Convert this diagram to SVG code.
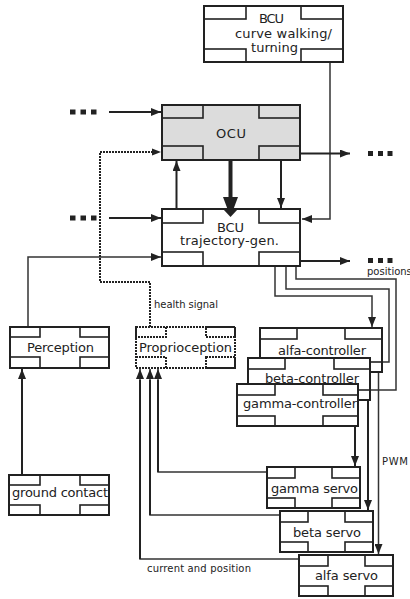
<svg xmlns="http://www.w3.org/2000/svg" width="410" height="599" viewBox="0 0 410 599">
<style>
.box{fill:#fff;stroke:#222;stroke-width:2}
.gray{fill:#dcdcdc}
.tab{fill:none;stroke:#222;stroke-width:1.6}
.dot{fill:none;stroke:#222;stroke-width:2;stroke-dasharray:2 1}
.lbl{font-family:"DejaVu Sans",Verdana,sans-serif;font-size:13px;fill:#222}
.sm{font-family:"DejaVu Sans",Verdana,sans-serif;font-size:10px;fill:#222}
.ln{fill:none;stroke:#222;stroke-width:2}
.th{fill:none;stroke:#333;stroke-width:1.5}
.sq{fill:#222}
</style>
<defs>
<marker id="ah" viewBox="0 0 10 8" refX="10" refY="4" markerWidth="10" markerHeight="8" markerUnits="userSpaceOnUse" orient="auto"><path d="M0,0 L10,4 L0,8 z" fill="#222"/></marker>
</defs>

<g id="connectors">
  <!-- BCU curve to BCU traj -->
  <polyline class="th" points="330,62 330,219 302,219" marker-end="url(#ah)"/>
  <!-- dots -> OCU -->
  <line class="ln" x1="109" y1="112" x2="161" y2="112" marker-end="url(#ah)"/>
  <!-- dots -> BCU traj -->
  <line class="ln" x1="109" y1="218" x2="161" y2="218" marker-end="url(#ah)"/>
  <!-- OCU -> dots -->
  <line class="ln" x1="300" y1="153.5" x2="350" y2="153.5" marker-end="url(#ah)"/>
  <!-- BCU traj -> dots -->
  <line class="ln" x1="300" y1="261" x2="350" y2="261" marker-end="url(#ah)"/>
  <!-- BCU traj -> OCU up -->
  <line class="ln" x1="176.5" y1="209" x2="176.5" y2="161" marker-end="url(#ah)"/>
  <!-- OCU -> BCU traj thick -->
  <line x1="230.5" y1="160" x2="230.5" y2="199" stroke="#222" stroke-width="4"/>
  <polygon points="223,197 238,197 230.5,217" fill="#222"/>
  <!-- OCU -> BCU traj thin -->
  <line class="ln" x1="281" y1="160" x2="281" y2="208" marker-end="url(#ah)"/>
  <!-- Perception -> BCU traj -->
  <polyline class="th" points="28,327 28,257 161,257" marker-end="url(#ah)"/>
  <!-- ground contact -> Perception -->
  <line class="ln" x1="22" y1="475" x2="22" y2="369" marker-end="url(#ah)"/>
  <!-- health signal dotted -->
  <polyline class="dot" points="150,327 150,282 100,282 100,152 154,152"/>
  <path d="M152,148.5 L161,152 L152,155.5 z" fill="#222"/>
  <!-- BCU traj -> controllers -->
  <polyline class="th" points="275,266 275,296 372,296 372,327" marker-end="url(#ah)"/>
  <polyline class="th" points="286,266 286,289 389,289 389,362 372,362" marker-end="url(#ah)"/>
  <polyline class="th" points="296,266 296,279 396,279 396,390 360,390" marker-end="url(#ah)"/>
  <!-- controllers -> servos (PWM) -->
  <line class="ln" x1="355" y1="426" x2="355" y2="466" marker-end="url(#ah)"/>
  <line class="ln" x1="368" y1="400" x2="368" y2="510" marker-end="url(#ah)"/>
  <line class="th" x1="378.5" y1="372" x2="378.5" y2="554" marker-end="url(#ah)"/>
  <!-- servos -> Proprioception -->
  <polyline class="th" points="267,472 158,472 158,369" marker-end="url(#ah)"/>
  <polyline class="th" points="280,515 150,515 150,369" marker-end="url(#ah)"/>
  <polyline class="th" points="299,559 140,559 140,369" marker-end="url(#ah)"/>
  <line x1="158" y1="472" x2="158" y2="380" stroke="#222" stroke-width="2"/>
  <line x1="150" y1="515" x2="150" y2="380" stroke="#222" stroke-width="2"/>
  <line x1="140" y1="559" x2="140" y2="380" stroke="#222" stroke-width="2"/>
  <!-- dots -->
  <rect class="sq" x="70" y="109.5" width="5.5" height="5"/>
  <rect class="sq" x="80.5" y="109.5" width="5.5" height="5"/>
  <rect class="sq" x="91" y="109.5" width="5.5" height="5"/>
  <rect class="sq" x="70" y="215.5" width="5.5" height="5"/>
  <rect class="sq" x="80.5" y="215.5" width="5.5" height="5"/>
  <rect class="sq" x="91" y="215.5" width="5.5" height="5"/>
  <rect class="sq" x="368" y="151" width="5" height="5"/>
  <rect class="sq" x="378" y="151" width="5" height="5"/>
  <rect class="sq" x="387.5" y="151" width="5" height="5"/>
  <rect class="sq" x="368" y="258" width="5" height="5"/>
  <rect class="sq" x="378" y="258" width="5" height="5"/>
  <rect class="sq" x="387.5" y="258" width="5" height="5"/>
  <text class="sm" x="367" y="275">positions</text>
  <text class="sm" x="154" y="308" textLength="64">health signal</text>
  <text class="sm" x="382" y="465" textLength="26">PWM</text>
  <text class="sm" x="147" y="572" textLength="104">current and position</text>
</g>

<g id="bcu-curve">
  <rect class="box" x="204" y="6" width="139" height="56"/>
  <rect class="tab" x="204" y="6" width="42" height="13"/>
  <rect class="tab" x="301" y="6" width="42" height="13"/>
  <rect class="tab" x="204" y="49" width="42" height="13"/>
  <rect class="tab" x="301" y="49" width="42" height="13"/>
  <text class="lbl" x="259" y="23" textLength="25">BCU</text>
  <text class="lbl" x="235" y="38" textLength="97">curve walking/</text>
  <text class="lbl" x="251" y="52" textLength="47">turning</text>
</g>

<g id="ocu">
  <rect class="box gray" x="162" y="105" width="138" height="55"/>
  <rect class="tab" x="162" y="105" width="41" height="13"/>
  <rect class="tab" x="259" y="105" width="41" height="13"/>
  <rect class="tab" x="162" y="146" width="41" height="14"/>
  <rect class="tab" x="259" y="146" width="41" height="14"/>
  <text class="lbl" x="216" y="138" textLength="30">OCU</text>
</g>

<g id="bcu-traj">
  <rect class="box" x="162" y="209" width="138" height="57"/>
  <rect class="tab" x="162" y="209" width="41" height="14"/>
  <rect class="tab" x="259" y="209" width="41" height="14"/>
  <rect class="tab" x="162" y="252" width="41" height="14"/>
  <rect class="tab" x="259" y="252" width="41" height="14"/>
  <polygon points="223,209 238,209 230.5,217" fill="#222"/>
  <text class="lbl" x="217" y="232" textLength="27">BCU</text>
  <text class="lbl" x="180" y="245" textLength="99">trajectory-gen.</text>
</g>

<g id="perception">
  <rect class="box" x="10" y="327" width="99" height="41"/>
  <rect class="tab" x="10" y="327" width="30" height="10"/>
  <rect class="tab" x="80" y="327" width="29" height="10"/>
  <rect class="tab" x="10" y="357" width="30" height="11"/>
  <rect class="tab" x="80" y="357" width="29" height="11"/>
  <text class="lbl" x="27" y="352" textLength="67">Perception</text>
</g>

<g id="proprioception">
  <rect class="dot" x="136" y="327" width="99" height="41" fill="#fff"/>
  <rect class="dot" x="136" y="327" width="30" height="10"/>
  <rect class="dot" x="206" y="327" width="29" height="10"/>
  <rect class="dot" x="136" y="357" width="30" height="11"/>
  <rect class="dot" x="206" y="357" width="29" height="11"/>
  <text class="lbl" x="139" y="352" textLength="93">Proprioception</text>
</g>

<g id="ground-contact">
  <rect class="box" x="9" y="475" width="100" height="40"/>
  <rect class="tab" x="9" y="475" width="31" height="10"/>
  <rect class="tab" x="80" y="475" width="29" height="10"/>
  <rect class="tab" x="9" y="505" width="31" height="10"/>
  <rect class="tab" x="80" y="505" width="29" height="10"/>
  <text class="lbl" x="12" y="497" textLength="96">ground contact</text>
</g>

<g id="alfa-controller">
  <rect class="box" x="260" y="328" width="122" height="44"/>
  <rect class="tab" x="260" y="328" width="37" height="11"/>
  <rect class="tab" x="345" y="328" width="37" height="11"/>
  <rect class="tab" x="260" y="362" width="37" height="10"/>
  <rect class="tab" x="345" y="362" width="37" height="10"/>
  <text class="lbl" x="278" y="355" textLength="88">alfa-controller</text>
</g>

<g id="beta-controller">
  <rect class="box" x="248" y="358" width="122" height="42"/>
  <rect class="tab" x="248" y="358" width="37" height="11"/>
  <rect class="tab" x="334" y="358" width="36" height="11"/>
  <rect class="tab" x="248" y="390" width="37" height="10"/>
  <rect class="tab" x="334" y="390" width="36" height="10"/>
  <text class="lbl" x="265" y="383" textLength="94">beta-controller</text>
</g>

<g id="gamma-controller">
  <rect class="box" x="237" y="384" width="121" height="42"/>
  <rect class="tab" x="237" y="384" width="38" height="11"/>
  <rect class="tab" x="323" y="384" width="35" height="11"/>
  <rect class="tab" x="237" y="416" width="38" height="10"/>
  <rect class="tab" x="323" y="416" width="35" height="10"/>
  <text class="lbl" x="243" y="408" textLength="114">gamma-controller</text>
</g>

<g id="gamma-servo">
  <rect class="box" x="267" y="467" width="93" height="41"/>
  <rect class="tab" x="267" y="467" width="28" height="11"/>
  <rect class="tab" x="332" y="467" width="28" height="11"/>
  <rect class="tab" x="267" y="498" width="28" height="10"/>
  <rect class="tab" x="332" y="498" width="28" height="10"/>
  <text class="lbl" x="271" y="493" textLength="87">gamma servo</text>
</g>

<g id="beta-servo">
  <rect class="box" x="280" y="511" width="93" height="41"/>
  <rect class="tab" x="280" y="511" width="28" height="11"/>
  <rect class="tab" x="345" y="511" width="28" height="11"/>
  <rect class="tab" x="280" y="542" width="28" height="10"/>
  <rect class="tab" x="345" y="542" width="28" height="10"/>
  <text class="lbl" x="293" y="537" textLength="68">beta servo</text>
</g>

<g id="alfa-servo">
  <rect class="box" x="299" y="555" width="94" height="41"/>
  <rect class="tab" x="299" y="555" width="29" height="11"/>
  <rect class="tab" x="365" y="555" width="28" height="11"/>
  <rect class="tab" x="299" y="586" width="29" height="10"/>
  <rect class="tab" x="365" y="586" width="28" height="10"/>
  <text class="lbl" x="315" y="580" textLength="63">alfa servo</text>
</g>
</svg>
